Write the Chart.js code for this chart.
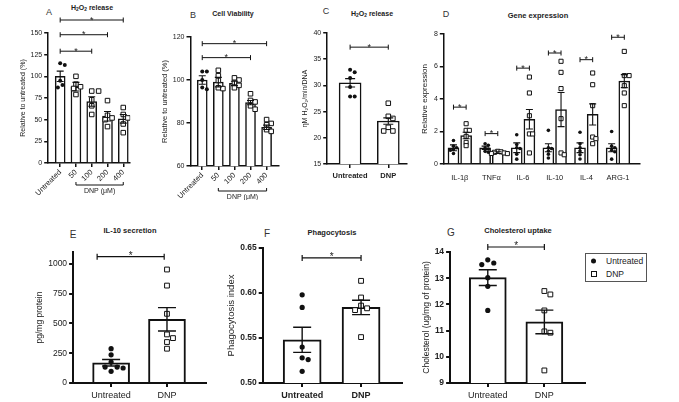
<!DOCTYPE html>
<html><head><meta charset="utf-8">
<script src="https://cdn.jsdelivr.net/npm/chart.js@4/dist/chart.umd.min.js"></script>
<style>
body{margin:0;width:679px;height:402px;background:#fff;position:relative;overflow:hidden;font-family:"Liberation Sans",Arial,Helvetica,sans-serif;color:#222}
canvas{position:absolute}
.t{position:absolute;transform:translate(-50%,-50%);white-space:nowrap;font-weight:bold;color:#222}
.t sub{font-size:70%;vertical-align:-0.25em;line-height:0}
.l{position:absolute;transform:translate(-50%,-50%);color:#333}
#lg{position:absolute;left:585px;top:253px;width:60px;height:27px;border:1px solid #555;font-size:8.5px;color:#222}
#lg .row{position:absolute;left:20px;transform:translateY(-50%);white-space:nowrap}
#lg .dot{position:absolute;left:5px;width:5px;height:5px;border-radius:50%;background:#111;transform:translateY(-50%)}
#lg .sq{position:absolute;left:5px;width:4px;height:4px;border:1px solid #111;background:#fff;transform:translateY(-50%)}
</style></head><body>
<div class="l" style="left:49px;top:12px;font-size:9px">A</div>
<div class="t" style="left:92px;top:7px;font-size:7px">H<sub>2</sub>O<sub>2</sub> release</div>
<div class="l" style="left:193px;top:15px;font-size:9px">B</div>
<div class="t" style="left:233px;top:13px;font-size:7px">Cell Viability</div>
<div class="l" style="left:326px;top:11px;font-size:9px">C</div>
<div class="t" style="left:372px;top:13px;font-size:7px">H<sub>2</sub>O<sub>2</sub> release</div>
<div class="l" style="left:446px;top:14px;font-size:9px">D</div>
<div class="t" style="left:538px;top:15px;font-size:7.5px">Gene expression</div>
<div class="l" style="left:73px;top:234px;font-size:10px">E</div>
<div class="t" style="left:130px;top:230px;font-size:7.5px">IL-10 secretion</div>
<div class="l" style="left:267px;top:233px;font-size:10px">F</div>
<div class="t" style="left:332px;top:232px;font-size:7.5px">Phagocytosis</div>
<div class="l" style="left:451px;top:232px;font-size:10px">G</div>
<div class="t" style="left:518px;top:230px;font-size:7.5px">Cholesterol uptake</div>
<div id="lg">
  <span class="dot" style="top:7px"></span><span class="row" style="top:7px">Untreated</span>
  <span class="sq" style="top:20px"></span><span class="row" style="top:20px">DNP</span>
</div>
<script>
// ---------------- DATA ----------------
// A: H2O2 release (relative to untreated, %)
const aCategories = ['Untreated','50','100','200','400'];
const aYTicks = [0,25,50,75,100,125,150];
const aMeans = [100, 88, 71, 54, 51];
const aSEM = [6, 5, 5.5, 5.5, 5];
const aUntreated = [115, 113, 95, 90, 87];
const aDose50 = [100, 91, 88, 86, 79];
const aDose100 = [83, 83, 73, 66, 56];
const aDose200 = [72, 55, 52, 50, 42];
const aDose400 = [64, 56, 52, 45, 35];
const aSig = [[0,2,129],[0,3,148],[0,4,165]];

// B: Cell viability (relative to untreated, %)
const bCategories = ['Untreated','50','100','200','400'];
const bYTicks = [60,80,100,120];
const bMeans = [100, 99, 98.4, 89.5, 78];
const bSEM = [2, 2.2, 1, 1, 1];
const bUntreated = [104, 104, 100, 96.5, 95.7];
const bDose50 = [104.5, 102, 99.8, 96.4, 96];
const bDose100 = [101, 100, 98.8, 97.5, 96.4];
const bDose200 = [93.6, 90.5, 89.8, 88, 86.4];
const bDose400 = [81.6, 79.8, 79.2, 76.9, 76.1];
const bSig = [[0,3,110.4],[0,4,116.9]];

// C: H2O2 release (nM H2O2/min/DNA)
const cCategories = ['Untreated','DNP'];
const cYTicks = [15,20,25,30,35,40];
const cMeans = [30.5, 23.2];
const cSEM = [0.8, 0.6];
const cUntreated = [33, 32.5, 31.4, 29.7, 27.9, 27.9];
const cDNP = [26.6, 24.1, 23.7, 22, 21.3, 21.3];
const cSig = [[0,1,37.3]];

// D: Gene expression
const dGenes = ['IL-1β','TNFα','IL-6','IL-10','IL-4','ARG-1'];
const dYTicks = [0,2,4,6,8];
const dUntreatedMeans = [1, 1, 1, 1, 1, 1];
const dUntreatedSEM = [0.18, 0.1, 0.3, 0.25, 0.3, 0.25];
const dDNPMeans = [1.75, 0.7, 2.75, 3.35, 3.05, 5.1];
const dDNPSEM = [0.2, 0.05, 0.6, 1.05, 0.65, 0.4];
const dUntreatedPts = [
  [1.45, 1.1, 1.0, 0.9, 0.85, 0.65],
  [1.25, 1.15, 0.98, 0.92, 0.78, 0.72],
  [1.8, 1.2, 1.0, 0.95, 0.6, 0.3],
  [2.07, 1.0, 0.95, 0.8, 0.6, 0.37],
  [1.95, 1.25, 1.0, 0.8, 0.57, 0.31],
  [2.0, 1.1, 1.0, 0.85, 0.75, 0.3]
];
const dDNPPts = [
  [2.48, 2.07, 2.07, 1.7, 1.33, 1.13],
  [0.78, 0.75, 0.72, 0.68, 0.65, 0.64],
  [5.35, 4.37, 2.97, 1.85, 1.85, 0.68],
  [6.32, 5.64, 4.64, 2.79, 0.68, 0.57],
  [5.6, 4.88, 3.59, 1.66, 1.56, 1.25],
  [6.93, 5.44, 5.44, 4.82, 4.37, 3.59]
];
const dSigHeights = [3.5, 1.87, 5.9, 6.83, 6.42, 7.8];

// E: IL-10 secretion (pg/mg protein)
const eCategories = ['Untreated','DNP'];
const eYTicks = [0,250,500,750,1000];
const eMeans = [170, 535];
const eSEM = [27, 98];
const eUntreated = [288, 237, 176, 134, 134, 126, 98];
const eDNP = [953, 818, 581, 408, 377, 344, 288];
const eSig = [[-0.25,0.95,1061]];

// F: Phagocytosis index
const fCategories = ['Untreated','DNP'];
const fYTicks = [0.50,0.55,0.60,0.65];
const fYLabels = ['0.50','0.55','0.60','0.65'];
const fMeans = [0.548, 0.584];
const fSEM = [0.014, 0.008];
const fUntreated = [0.598, 0.584, 0.540, 0.528, 0.526, 0.513];
const fDNP = [0.6135, 0.595, 0.586, 0.583, 0.581, 0.551];
const fSig = [[0,1,0.639]];

// G: Cholesterol uptake (ug/mg of protein)
const gCategories = ['Untreated','DNP'];
const gYTicks = [9,10,11,12,13,14];
const gMeans = [13.02, 11.33];
const gSEM = [0.3, 0.45];
const gUntreated = [13.7, 13.58, 13.52, 13.02, 12.69, 11.77];
const gDNP = [12.51, 12.38, 11.77, 10.97, 10.92, 9.48];
const gSig = [[0,1,14.19]];

// ---------------- RENDER ----------------
const FONT = '"Liberation Sans", Arial, Helvetica, sans-serif';
Chart.defaults.font.family = FONT;
Chart.defaults.color = '#222';
Chart.defaults.animation = false;
const INK = '#111';

function swarm(chart, groups, nBars, minD) {
  const xs = chart.scales.x, ys = chart.scales.y;
  groups.forEach((g, gi) => {
    const cx = xs.getPixelForValue(g.x);
    const placed = [];
    const data = g.vals.map(v => {
      const py = ys.getPixelForValue(v);
      let off = 0;
      for (let k = 0; k < 40; k++) {
        const cand = k === 0 ? 0 : (k % 2 ? 1 : -1) * Math.ceil(k / 2) * minD * 0.5;
        if (placed.every(p => Math.hypot(p.x - (cx + cand), p.y - py) >= minD)) { off = cand; break; }
      }
      placed.push({x: cx + off, y: py});
      return {x: xs.getValueForPixel(cx + off), y: v};
    });
    chart.data.datasets[nBars + gi].data = data;
  });
  chart.update('none');
}

function makePanel(o) {
  const cv = document.createElement('canvas');
  const W = Math.round(o.box.w), H = o.box.h;
  cv.width = W; cv.height = H;
  cv.style.left = o.box.x + 'px'; cv.style.top = o.box.y + 'px';
  cv.style.width = W + 'px'; cv.style.height = H + 'px';
  document.body.appendChild(cv);
  const a = o.area;
  const datasets = [];
  o.bars.forEach(b => datasets.push({
    type: 'bar', data: b.xs.map((x, i) => ({x, y: b.means[i]})),
    backgroundColor: '#fff', borderColor: INK, borderWidth: o.barBorder,
    barThickness: o.barW, grouped: false, order: 3
  }));
  o.groups.forEach(g => datasets.push({
    type: 'scatter', data: g.vals.map(v => ({x: g.x, y: v})),
    pointStyle: g.filled ? 'circle' : 'rect',
    pointRadius: g.filled ? o.dotR : o.sqR,
    backgroundColor: g.filled ? INK : '#fff', borderColor: INK,
    borderWidth: g.filled ? 0 : 1, order: 1
  }));
  const extras = {
    id: 'extras',
    afterDatasetsDraw(chart) {
      const ctx = chart.ctx, xs = chart.scales.x, ys = chart.scales.y;
      ctx.save();
      ctx.strokeStyle = INK; ctx.fillStyle = '#222';
      ctx.lineWidth = o.errW;
      o.errs.forEach(e => {
        const px = xs.getPixelForValue(e.x);
        const y1 = ys.getPixelForValue(e.mean + e.err), y2 = ys.getPixelForValue(e.mean - e.err);
        ctx.beginPath();
        ctx.moveTo(px, y1); ctx.lineTo(px, y2);
        ctx.moveTo(px - o.cap / 2, y1); ctx.lineTo(px + o.cap / 2, y1);
        ctx.moveTo(px - o.cap / 2, y2); ctx.lineTo(px + o.cap / 2, y2);
        ctx.stroke();
      });
      ctx.lineWidth = o.sigW;
      ctx.font = o.starFont + ' ' + FONT;
      ctx.textAlign = 'center'; ctx.textBaseline = 'alphabetic';
      o.sig.forEach(s => {
        const x1 = xs.getPixelForValue(s[0]), x2 = xs.getPixelForValue(s[1]), y = ys.getPixelForValue(s[2]);
        ctx.beginPath();
        ctx.moveTo(x1, y); ctx.lineTo(x2, y);
        ctx.moveTo(x1, y - o.sigCap); ctx.lineTo(x1, y + o.sigCap);
        ctx.moveTo(x2, y - o.sigCap); ctx.lineTo(x2, y + o.sigCap);
        ctx.stroke();
        ctx.fillText('*', (x1 + x2) / 2, y + o.starDy);
      });
      if (o.dnp) {
        const x1 = xs.getPixelForValue(o.dnp.x1), x2 = xs.getPixelForValue(o.dnp.x2);
        const y = chart.chartArea.bottom + o.dnp.dy;
        ctx.lineWidth = 1;
        ctx.beginPath();
        ctx.moveTo(x1, y - 3); ctx.lineTo(x1, y); ctx.lineTo(x2, y); ctx.lineTo(x2, y - 3);
        ctx.stroke();
        ctx.font = '7px ' + FONT;
        ctx.textBaseline = 'middle';
        ctx.fillText(o.dnp.text, (x1 + x2) / 2, y + 6);
      }
      ctx.restore();
    }
  };
  const chart = new Chart(cv, {
    type: 'bar',
    data: {datasets},
    options: {
      responsive: false, animation: false, events: [],
      layout: {padding: {left: 0, top: a.t - o.box.y, right: o.box.x + W - a.r, bottom: 0}},
      plugins: {legend: {display: false}, tooltip: {enabled: false}, title: {display: false}},
      scales: {
        x: {
          type: 'linear', min: o.xmin, max: o.xmax, offset: false,
          afterFit(s) { s.height = o.box.y + H - a.b; },
          afterBuildTicks(s) { s.ticks = o.xticks.map(v => ({value: v})); },
          ticks: {callback: (v, i) => o.xlabels[i], autoSkip: false,
                  minRotation: o.rot || 0, maxRotation: o.rot || 0,
                  padding: o.xpad, font: o.xfont, color: '#222'},
          grid: {display: !o.noXTickMarks, offset: false, drawOnChartArea: false, drawTicks: true,
                 tickLength: 4, color: INK, lineWidth: o.axisW},
          border: {display: true, color: INK, width: o.axisW}
        },
        y: {
          type: 'linear', min: o.ymin, max: o.ymax,
          afterFit(s) { s.width = a.l - o.box.x; },
          afterBuildTicks(s) { s.ticks = o.yticks.map(v => ({value: v})); },
          ticks: {callback: (v, i) => o.ylabels[i], padding: 2, font: o.yfont, color: '#222', autoSkip: false},
          grid: {drawOnChartArea: false, tickLength: 4, color: INK, lineWidth: o.axisW},
          border: {display: true, color: INK, width: o.axisW},
          title: {display: true, text: o.ytitle, font: o.ytfont, padding: 0, color: '#222'}
        }
      }
    },
    plugins: [extras]
  });
  swarm(chart, o.groups, o.bars.length, o.minD);
  return chart;
}

const idx = arr => arr.map((_, i) => i);
const errsOf = (xs, means, sems) => xs.map((x, i) => ({x, mean: means[i], err: sems[i]}));
const topStyle = {axisW: 1.5, barBorder: 1.5, errW: 1.1, sigW: 1, sigCap: 2.5, starFont: '9px', starDy: 2.5, dotR: 2, sqR: 3.2, minD: 4.6};
const botStyle = {axisW: 2, barBorder: 2, errW: 1.4, sigW: 1.2, sigCap: 3, starFont: '10px', starDy: 2, dotR: 2.6, sqR: 3.4, minD: 6};

// Panel A
makePanel(Object.assign({}, topStyle, {
  box: {x: 18.8, y: 0, w: 131, h: 200}, area: {l: 48, t: 33, r: 130, b: 163},
  xmin: -0.76, xmax: 4.44, ymin: 0, ymax: 150,
  xticks: idx(aCategories), xlabels: aCategories, rot: 45, xpad: 1, xfont: {size: 7.5},
  yticks: aYTicks, ylabels: aYTicks.map(String), yfont: {size: 7},
  ytitle: 'Relative to untreated (%)', ytfont: {size: 7},
  barW: 10, cap: 7,
  bars: [{xs: idx(aCategories), means: aMeans}],
  errs: errsOf(idx(aCategories), aMeans, aSEM),
  groups: [{x: 0, vals: aUntreated, filled: true}, {x: 1, vals: aDose50}, {x: 2, vals: aDose100}, {x: 3, vals: aDose200}, {x: 4, vals: aDose400}],
  sig: aSig, dnp: {x1: 1, x2: 4, dy: 22, text: 'DNP (μM)'}
}));

// Panel B
makePanel(Object.assign({}, topStyle, {
  box: {x: 159.5, y: 0, w: 136, h: 200}, area: {l: 190, t: 37, r: 278, b: 166},
  xmin: -0.73, xmax: 4.74, ymin: 60, ymax: 120,
  xticks: idx(bCategories), xlabels: bCategories, rot: 45, xpad: 1, xfont: {size: 7.5},
  yticks: bYTicks, ylabels: bYTicks.map(String), yfont: {size: 7},
  ytitle: 'Relative to untreated (%)', ytfont: {size: 7.5},
  barW: 10, cap: 7,
  bars: [{xs: idx(bCategories), means: bMeans}],
  errs: errsOf(idx(bCategories), bMeans, bSEM),
  groups: [{x: 0, vals: bUntreated, filled: true}, {x: 1, vals: bDose50}, {x: 2, vals: bDose100}, {x: 3, vals: bDose200}, {x: 4, vals: bDose400}],
  sig: bSig, dnp: {x1: 1, x2: 4, dy: 25, text: 'DNP (μM)'}
}));

// Panel C
makePanel(Object.assign({}, topStyle, {
  box: {x: 300.8, y: 0, w: 111, h: 200}, area: {l: 327, t: 33, r: 407, b: 164},
  xmin: -0.6, xmax: 1.49, ymin: 15, ymax: 40,
  xticks: idx(cCategories), xlabels: cCategories, xpad: 3, xfont: {size: 7.5, weight: 'bold'},
  yticks: cYTicks, ylabels: cYTicks.map(String), yfont: {size: 7},
  ytitle: 'ηM H₂O₂/min/DNA', ytfont: {size: 7},
  barW: 22, cap: 10,
  bars: [{xs: idx(cCategories), means: cMeans}],
  errs: errsOf(idx(cCategories), cMeans, cSEM),
  groups: [{x: 0, vals: cUntreated, filled: true}, {x: 1, vals: cDNP}],
  sig: cSig
}));

// Panel D
const dOff = 0.2;
const dUx = idx(dGenes).map(i => i - dOff), dDx = idx(dGenes).map(i => i + dOff);
makePanel(Object.assign({}, topStyle, {
  box: {x: 420.2, y: 0, w: 240, h: 200}, area: {l: 444, t: 34, r: 640, b: 164},
  xmin: -0.506, xmax: 5.69, ymin: 0, ymax: 8,
  xticks: idx(dGenes), xlabels: dGenes, xpad: 5, xfont: {size: 7.5}, noXTickMarks: true,
  yticks: dYTicks, ylabels: dYTicks.map(String), yfont: {size: 7},
  ytitle: 'Relative expression', ytfont: {size: 8},
  barW: 11, cap: 7,
  bars: [{xs: dUx, means: dUntreatedMeans}, {xs: dDx, means: dDNPMeans}],
  errs: errsOf(dUx, dUntreatedMeans, dUntreatedSEM).concat(errsOf(dDx, dDNPMeans, dDNPSEM)),
  groups: dUntreatedPts.map((vals, i) => ({x: dUx[i], vals, filled: true}))
          .concat(dDNPPts.map((vals, i) => ({x: dDx[i], vals}))),
  minD: 3.2, dotR: 1.8, sqR: 2.9,
  sig: dSigHeights.map((h, i) => [dUx[i], dDx[i], h])
}));

// Panel E
makePanel(Object.assign({}, botStyle, {
  box: {x: 34.9, y: 200, w: 180, h: 202}, area: {l: 73, t: 252, r: 206, b: 383},
  xmin: -0.68, xmax: 1.7, ymin: 0, ymax: 1100,
  xticks: idx(eCategories), xlabels: eCategories, xpad: 3, xfont: {size: 9},
  yticks: eYTicks, ylabels: eYTicks.map(String), yfont: {size: 8.5},
  ytitle: 'pg/mg protein', ytfont: {size: 8.5},
  barW: 37, cap: 18,
  bars: [{xs: idx(eCategories), means: eMeans}],
  errs: errsOf(idx(eCategories), eMeans, eSEM),
  groups: [{x: 0, vals: eUntreated, filled: true}, {x: 1, vals: eDNP}],
  sig: eSig
}));

// Panel F
makePanel(Object.assign({}, botStyle, {
  box: {x: 226.3, y: 200, w: 184, h: 202}, area: {l: 263, t: 248, r: 402, b: 383},
  xmin: -0.67, xmax: 1.69, ymin: 0.5, ymax: 0.65,
  xticks: idx(fCategories), xlabels: fCategories, xpad: 3, xfont: {size: 9, weight: 'bold'},
  yticks: fYTicks, ylabels: fYLabels, yfont: {size: 8.5, weight: 'bold'},
  ytitle: 'Phagocytosis index', ytfont: {size: 9.5},
  barW: 38, cap: 18,
  bars: [{xs: idx(fCategories), means: fMeans}],
  errs: errsOf(idx(fCategories), fMeans, fSEM),
  groups: [{x: 0, vals: fUntreated, filled: true}, {x: 1, vals: fDNP}],
  sig: fSig
}));

// Panel G
makePanel(Object.assign({}, botStyle, {
  box: {x: 421.9, y: 200, w: 170, h: 202}, area: {l: 450, t: 252, r: 585, b: 383},
  xmin: -0.666, xmax: 1.72, ymin: 9, ymax: 14,
  xticks: idx(gCategories), xlabels: gCategories, xpad: 3, xfont: {size: 9},
  yticks: gYTicks, ylabels: gYTicks.map(String), yfont: {size: 8.5, weight: 'bold'},
  ytitle: 'Cholesterol (ug/mg of protein)', ytfont: {size: 8.5},
  barW: 37, cap: 18,
  bars: [{xs: idx(gCategories), means: gMeans}],
  errs: errsOf(idx(gCategories), gMeans, gSEM),
  groups: [{x: 0, vals: gUntreated, filled: true}, {x: 1, vals: gDNP}],
  sig: gSig
}));
</script>
</body></html>
